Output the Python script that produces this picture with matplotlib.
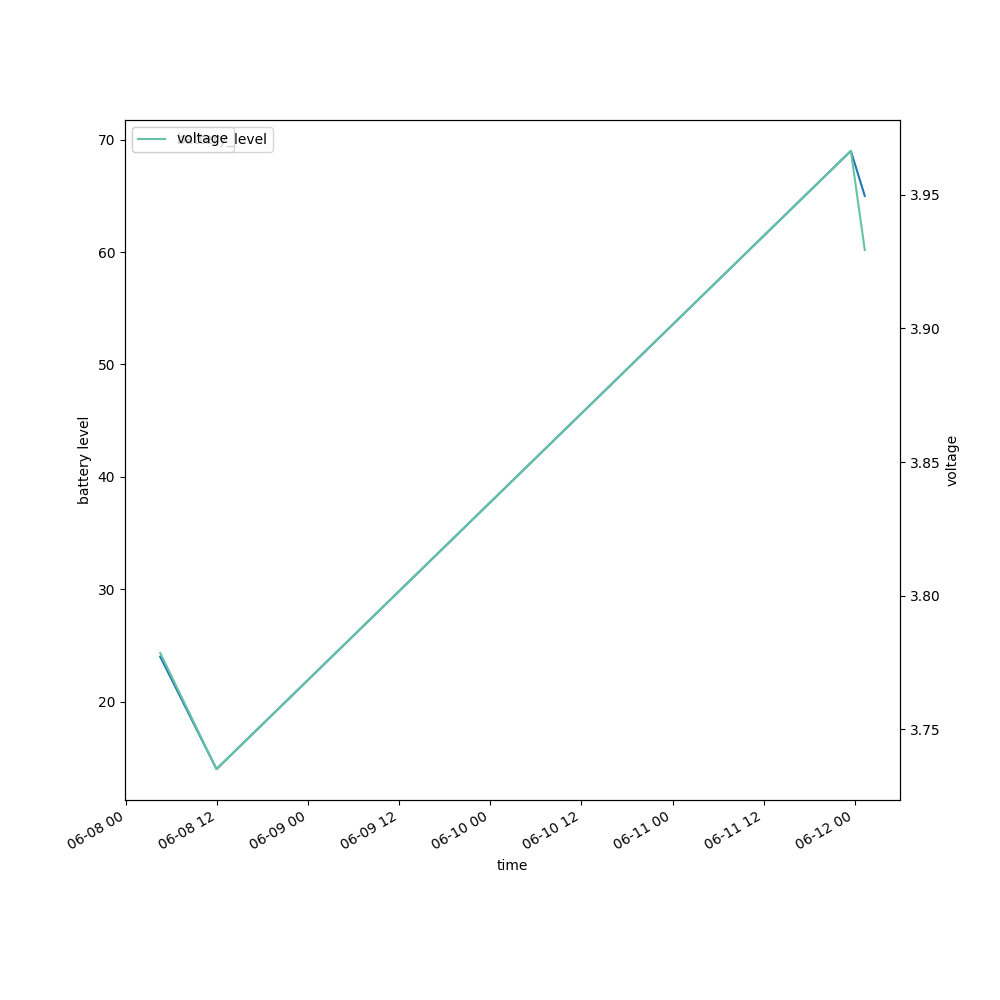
import pandas as pd
import matplotlib
matplotlib.use('Agg')
import matplotlib.pyplot as plt
import matplotlib.dates as mdates

times = pd.to_datetime(['2023-06-08 04:30', '2023-06-08 11:55',
                        '2023-06-11 23:30', '2023-06-12 01:20'])
battery_level = [24.0, 14.0, 69.0, 65.0]
voltage = [3.7785, 3.735, 3.9665, 3.9294]

fig, ax = plt.subplots(figsize=(10, 10))
ax.plot(times, battery_level, color='#1f77b4', label='battery_level')
ax.set_xlabel('time')
ax.set_ylabel('battery level')
ax.legend(loc='upper left')

ax2 = ax.twinx()
ax2.plot(times, voltage, color='#66c2a5', label='voltage')
ax2.set_ylabel('voltage')
ax2.legend(loc='upper left')

ax.xaxis.set_major_locator(mdates.HourLocator(byhour=[0, 12]))
ax.xaxis.set_major_formatter(mdates.DateFormatter('%m-%d %H'))
fig.autofmt_xdate()

plt.savefig('out.png', dpi=100)
